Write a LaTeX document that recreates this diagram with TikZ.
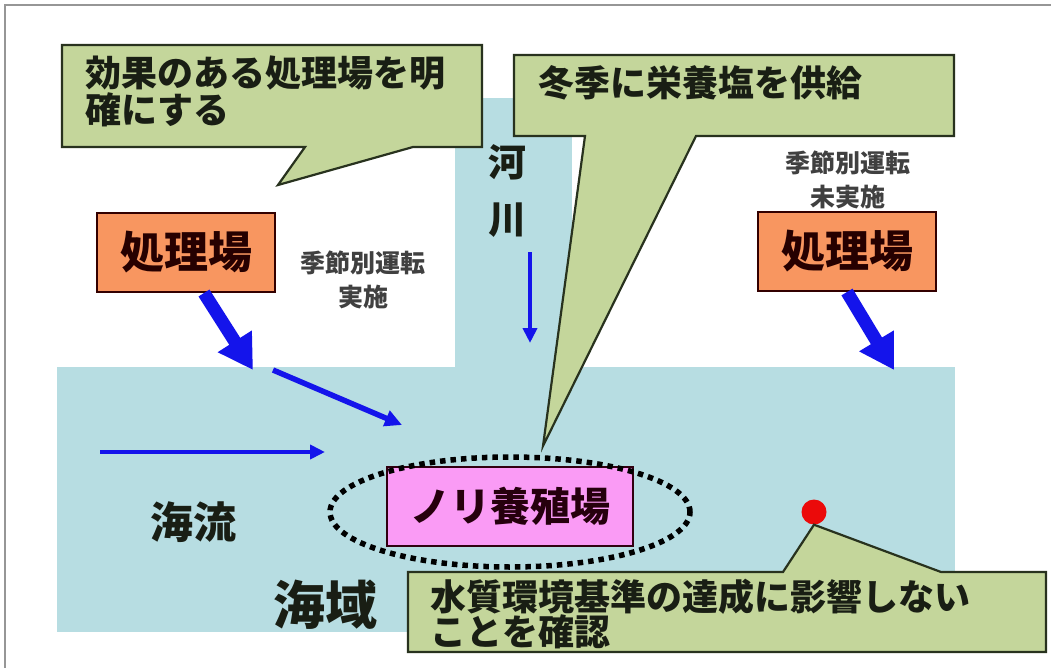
\documentclass[tikz,border=0pt]{standalone}
\usepackage{fontspec}
\newfontfamily\jp{Noto Sans CJK JP}
\usetikzlibrary{arrows.meta}
\definecolor{sea}{RGB}{183,221,226}
\definecolor{callfill}{RGB}{196,214,155}
\definecolor{callline}{RGB}{40,50,30}
\definecolor{plant}{RGB}{248,150,96}
\definecolor{nori}{RGB}{250,155,245}
\definecolor{flow}{RGB}{20,20,235}
\definecolor{txt}{RGB}{25,30,20}
\definecolor{framegray}{RGB}{150,150,150}
\definecolor{reddot}{RGB}{235,10,10}
\begin{document}
\begin{tikzpicture}[x=1pt,y=-1pt,
 callout/.style={fill=callfill,draw=callline,line width=2.2pt,line join=miter},
 calltext/.style={font=\jp\bfseries\fontsize{36}{37}\selectfont,text=txt,inner sep=0pt,anchor=west},
 plantbox/.style={fill=plant,draw=black!80!red,line width=2pt,minimum width=178pt,minimum height=79pt,font=\jp\bfseries\fontsize{44}{44}\selectfont,text=black!85!red,inner sep=0pt},
 noribox/.style={fill=nori,draw=black!75!purple,line width=2pt,minimum width=246pt,minimum height=79pt,font=\jp\bfseries\fontsize{40}{40}\selectfont,text=black!80!purple,inner sep=0pt},
 opnote/.style={font=\jp\bfseries\fontsize{25}{34}\selectfont,text=black!75,align=center,inner sep=0pt},
 bigflow/.style={draw=flow,line width=13pt,-{Triangle[length=34pt,width=38pt]}},
 midflow/.style={draw=flow,line width=5.5pt,-{Triangle[length=17pt,width=16pt]}},
 thinflow/.style={draw=flow,line width=4.5pt,-{Triangle[length=15pt,width=14pt]}},
 place/.style={font=\jp\bfseries,text=txt,inner sep=0pt},
 ring/.style={draw=black,line width=5.5pt,dash pattern=on 5.5pt off 5pt}]

\useasboundingbox (0,0) rectangle (1051,668);
\fill[white] (0,0) rectangle (1051,668);
\draw[framegray,line width=1.5pt] (5,668) -- (5,5) -- (1051,5);

% water
\fill[sea] (57,367) rectangle (955,632);
\fill[sea] (455,98) rectangle (572,368);

% plants
\node[plantbox] (plantL) at (186,252.5) {処理場};
\node[plantbox] (plantR) at (847,251.5) {処理場};

% operation notes
\node[opnote] (noteL) at (363,280) {季節別運転\\実施};
\node[opnote] (noteR) at (848,180) {季節別運転\\未実施};

% labels
\node[place,font=\jp\bfseries\fontsize{38}{38}\selectfont] (kawa1) at (507,162) {河};
\node[place,font=\jp\bfseries\fontsize{38}{38}\selectfont] (kawa2) at (507,220) {川};
\node[place,font=\jp\bfseries\fontsize{43}{43}\selectfont] (kairyu) at (193,522) {海流};
\node[place,font=\jp\bfseries\fontsize{52}{52}\selectfont] (kaiiki) at (325,605) {海域};

% flows
\coordinate (aL) at (253,370);
\coordinate (bL0) at (273,370);
\coordinate (bL1) at (402,425);
\coordinate (aR) at (894,370);
\coordinate (c0) at (100,452);
\coordinate (c1) at (325,452);
\coordinate (r0) at (530,252);
\coordinate (r1) at (530,343);
\draw[bigflow] ([xshift=18pt]plantL.south) -- (aL);
\draw[midflow] (bL0) -- (bL1);
\draw[bigflow] (plantR.south) -- (aR);
\draw[thinflow] (c0) -- (c1);
\draw[thinflow] (r0) -- (r1);

% nori farm
\node[noribox] (farm) at (510,506.5) {ノリ養殖場};
\draw[ring] (510,512) ellipse [x radius=180pt, y radius=55pt];

% callouts
\coordinate (tip1) at (278,185);
\draw[callout] (62,45) -- (482,45) -- (482,147) -- (413,147) -- (tip1) -- (305,147) -- (62,147) -- cycle;
\node[calltext] (t1a) at (85,73) {効果のある処理場を明};
\node[calltext] (t1b) at (85,110) {確にする};

\coordinate (tip2) at (543,446);
\draw[callout] (514,55) -- (954,55) -- (954,136) -- (696,136) -- (tip2) -- (585,136) -- (514,136) -- cycle;
\node[calltext] (t2) at (538,83) {冬季に栄養塩を供給};

\node[circle,fill=reddot,minimum size=25pt,inner sep=0pt] (point) at (814,512) {};
\draw[callout] (408,572) -- (783,572) -- (point.south) -- (941,572) -- (1046,572) -- (1046,652) -- (408,652) -- cycle;
\node[calltext] (t3a) at (430,597) {水質環境基準の達成に影響しない};
\node[calltext] (t3b) at (430,632) {ことを確認};
\end{tikzpicture}
\end{document}
